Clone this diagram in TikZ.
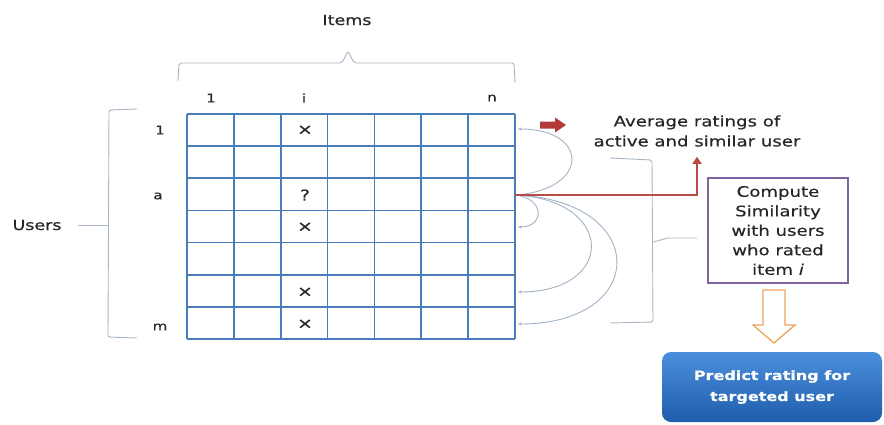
\documentclass[tikz,border=0pt]{standalone}
\usepackage{fontspec}
\setmainfont{DejaVu Sans}[FakeStretch=1.25,FakeBold=0.35]
\usetikzlibrary{arrows.meta,calc}
\definecolor{gridblue}{HTML}{4A7EBB}
\definecolor{txtgrey}{HTML}{262626}
\definecolor{arcgrey}{HTML}{A3B3C7}
\definecolor{bracegrey}{HTML}{A9B6C6}
\definecolor{darkred}{HTML}{B23A3A}
\definecolor{redline}{HTML}{B84A48}
\definecolor{purpleborder}{HTML}{8064A2}
\definecolor{arroworange}{HTML}{E9A55C}
\definecolor{predtop}{HTML}{4B8FDC}
\definecolor{predbot}{HTML}{1E5DAC}
\tikzset{
  gridline/.style={draw=gridblue, line width=1.8pt},
  lbl/.style={text=txtgrey, font=\fontsize{12}{14}\selectfont, inner sep=0pt},
  cellmark/.style={text=txtgrey, font=\fontsize{15}{16}\selectfont, inner sep=0pt},
  bigtext/.style={text=txtgrey, font=\fontsize{14}{16}\selectfont, inner sep=0pt},
  avgtext/.style={text=txtgrey, font=\fontsize{14.5}{20}\selectfont, align=center, inner sep=0pt},
  bracket/.style={draw=bracegrey, line width=0.9pt, rounded corners=2pt},
  simarc/.style={draw=arcgrey, line width=0.9pt, -{Stealth[length=4pt,width=3pt]}},
  compbox/.style={draw=purpleborder, line width=1.5pt, fill=white, minimum width=140pt, minimum height=105pt, align=center, text=txtgrey, font=\fontsize{14.5}{19.5}\selectfont, inner sep=0pt},
  predbox/.style={rounded corners=9pt, top color=predtop, bottom color=predbot, draw=none, minimum width=220pt, minimum height=70pt, align=center, text=white, font=\bfseries\fontsize{12.8}{21}\selectfont, inner sep=0pt},
}
\begin{document}
\begin{tikzpicture}[x=1pt,y=-1pt]
\useasboundingbox (0,0) rectangle (884,424);
\fill[white] (0,0) rectangle (884,424);

% grid
\foreach \i in {0,...,7} {
  \draw[gridline] ({187+\i*46.857},114) -- ({187+\i*46.857},339);
  \draw[gridline] (187,{114+\i*32.143}) -- (515,{114+\i*32.143});
}

% column labels
\node[lbl] (c1) at (211,98) {1};
\node[lbl] (ci) at (304,98) {i};
\node[lbl] (cn) at (492,98) {n};
% row labels
\node[lbl] (r1l) at (160,130) {1};
\node[lbl] (ral) at (158,196) {a};
\node[lbl] (rml) at (160,327) {m};

% marks
\node[cellmark] (x1) at (305,130) {×};
\node[cellmark] (q3) at (305,195) {?};
\node[cellmark] (x4) at (305,227) {×};
\node[cellmark] (x6) at (305,292) {×};
\node[cellmark] (x7) at (305,324) {×};

% top brace
\draw[bracket] (178,81) -- (179,63) -- (342,63) -- (348,51) -- (354,63) -- (514,63) -- (515,83);
\node[bigtext] (items) at (347,20) {Items};

% left brace
\draw[bracket] (137,109) -- (109,110) -- (108,337) -- (137,338);
\draw[draw=bracegrey, line width=0.9pt] (108,225) -- (78,225);
\node[bigtext] (users) at (37,225) {Users};

% right brace
\draw[bracket] (610,158) -- (652,160) -- (653,322) -- (610,323);
\draw[draw=bracegrey, line width=0.9pt] (653,242) -- (668,238) -- (697,238);

% arcs
\coordinate (src) at (515,195);
\coordinate (t1) at (518,129);
\coordinate (t4) at (518,227);
\coordinate (t6) at (518,292);
\coordinate (t7) at (518,324);
\draw[simarc] (src) .. controls (590,190) and (590,129) .. (t1);
\draw[simarc] (src) .. controls (545,198) and (545,227) .. (t4);
\draw[simarc] (src) .. controls (616,200) and (616,292) .. (t6);
\draw[simarc] (src) .. controls (650,200) and (650,324) .. (t7);

% texts and boxes
\node[avgtext] (avg) at (697,131) {Average ratings of\\active and similar user};
\draw[draw=redline, line width=2.4pt, -{Triangle[length=7pt,width=9pt]}] (src) -| ([yshift=-10pt]avg.south);

% small red block arrow
\fill[darkred] (540,121.5) -- (555,121.5) -- (555,117.5) -- (566,125) -- (555,132.5) -- (555,128.5) -- (540,128.5) -- cycle;

\node[compbox] (comp) at (778,230.5) {Compute\\Similarity\\with users\\who rated\\item \textit{i}};

\node[predbox] (pred) at (772,387) {Predict rating for\\targeted user};

% hollow orange arrow
\draw[draw=arroworange, line width=1.3pt, fill=white, line join=miter]
  (763,290) -- (785,290) -- (785,325) -- (795,325) -- (774,343) -- (753,325) -- (763,325) -- cycle;
\end{tikzpicture}
\end{document}
